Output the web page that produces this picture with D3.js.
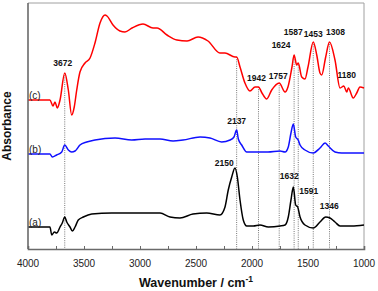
<!DOCTYPE html>
<html>
<head>
<meta charset="utf-8">
<script src="https://cdn.jsdelivr.net/npm/d3@7"></script>
<style>
  body { margin: 0; background: #fff; }
  svg { display: block; font-family: "Liberation Sans", Arial, sans-serif; }
</style>
</head>
<body>
<svg id="chart" width="378" height="291"></svg>
<script>
// spectra, wavenumber (cm-1) and absorbance (offset, a.u.)
var wnC = [4000,3804,3777,3759,3738,3714,3672,3640,3610,3587,3565,3536,3491,3446,3402,3357,3312,3295,3241,3179,3134,3071,2973,2884,2848,2759,2670,2580,2482,2393,2286,2241,2152,2137,2107,2063,2018,1973,1942,1911,1869,1824,1757,1705,1679,1643,1624,1601,1587,1556,1527,1500,1453,1422,1393,1378,1342,1308,1259,1214,1180,1154,1140,1096,1065,1036,1000];
var absC = [1.49,1.49,1.43,1.47,1.41,1.49,1.76,1.59,1.34,1.42,1.59,1.77,1.86,1.91,2.06,2.26,2.34,2.33,2.24,2.18,2.17,2.21,2.25,2.21,2.21,2.14,2.09,2.08,2.12,2.08,1.96,1.96,1.92,1.92,1.82,1.66,1.58,1.62,1.62,1.56,1.50,1.59,1.66,1.57,1.62,1.82,1.94,1.84,1.86,1.72,1.70,1.82,2.07,1.94,1.76,1.74,1.92,2.07,1.89,1.61,1.63,1.57,1.61,1.51,1.56,1.62,1.61];

var wnB = [4000,3804,3783,3744,3699,3672,3640,3610,3580,3536,3476,3402,3223,3074,2955,2821,2705,2616,2464,2375,2271,2196,2161,2137,2122,2092,2047,1991,1929,1857,1750,1705,1676,1652,1631,1610,1587,1571,1527,1453,1393,1348,1319,1259,1199,1080,1000];
var absB = [0.95,0.95,0.92,0.94,0.97,1.04,0.99,0.97,0.98,1.04,1.07,1.09,1.11,1.09,1.10,1.10,1.08,1.09,1.12,1.11,1.07,1.09,1.12,1.19,1.10,1.04,0.97,0.97,0.97,0.97,0.98,0.97,1.02,1.16,1.25,1.12,1.09,1.04,0.99,0.96,1.01,1.06,1.03,0.97,0.96,0.96,0.96];

var wnA = [4000,3804,3788,3765,3744,3714,3694,3672,3654,3625,3604,3580,3551,3506,3431,3253,3074,2911,2821,2732,2643,2527,2404,2286,2241,2212,2181,2152,2131,2107,2078,2047,1988,1929,1854,1750,1705,1676,1652,1631,1610,1592,1571,1527,1453,1393,1342,1304,1259,1214,1110,1000];
var absA = [0.22,0.22,0.14,0.17,0.16,0.22,0.26,0.32,0.27,0.22,0.18,0.22,0.29,0.32,0.35,0.36,0.36,0.36,0.36,0.32,0.31,0.35,0.36,0.34,0.42,0.59,0.72,0.81,0.72,0.49,0.29,0.23,0.23,0.24,0.22,0.23,0.24,0.32,0.49,0.62,0.44,0.42,0.32,0.24,0.21,0.27,0.32,0.31,0.27,0.23,0.23,0.24];

var seriesNames = ["(c)", "(b)", "(a)"];
var xTicks = [4000, 3500, 3000, 2500, 2000, 1500, 1000];

// peak labels for each trace
var peaksC = [3672, 1942, 1757, 1624, 1587, 1453, 1308, 1180];
var peaksB = [2137];
var peaksA = [2150, 1632, 1591, 1346];
// dotted guide lines
var guideLines = [3672, 2137, 1942, 1757, 1624, 1587, 1453, 1308];

// label placement (pixel nudges)
var labelPos = {
  3672:{dx:-2,y:66}, 1942:{dx:-2,y:81}, 1757:{dx:-1,y:79}, 1624:{dx:-13,y:48},
  1587:{dx:-5,y:35}, 1453:{dx:0,y:37}, 1308:{dx:6,y:35}, 1180:{dx:3,y:78},
  2137:{dx:0,y:124}, 2150:{dx:-11,y:166}, 1632:{dx:-4,y:179}, 1591:{dx:11,y:194},
  1346:{dx:4,y:209}
};

var svg = d3.select("#chart");
var mLeft = 28, mRight = 364, mTop = 3, mBottom = 249;

var x = d3.scaleLinear().domain([4000, 1000]).range([mLeft, mRight]);
var y = d3.scaleLinear().domain([0, 2.46]).range([mBottom, mTop]);

function pts(wn, ab){ return wn.map(function(w,i){ return [w, ab[i]]; }); }
var traces = [
  {name:seriesNames[0], data:pts(wnC, absC), color:"#ff0000"},
  {name:seriesNames[1], data:pts(wnB, absB), color:"#1010ff"},
  {name:seriesNames[2], data:pts(wnA, absA), color:"#000000"}
];

// value of the red trace at a wavenumber (for guide line start)
function redAt(w){
  for (var i=0;i<wnC.length-1;i++){
    if (w<=wnC[i] && w>=wnC[i+1]){
      var t=(wnC[i]-w)/(wnC[i]-wnC[i+1]);
      return absC[i]+(absC[i+1]-absC[i])*t;
    }
  }
  return absC[0];
}

// guide lines
svg.append("g").selectAll("line").data(guideLines).enter().append("line")
  .attr("x1", function(d){return x(d);}).attr("x2", function(d){return x(d);})
  .attr("y1", function(d){return y(redAt(d));}).attr("y2", mBottom)
  .attr("stroke", "#555").attr("stroke-width", 0.8)
  .attr("stroke-dasharray", "1,1.2");

// frame
svg.append("path")
  .attr("d", "M"+mLeft+","+mTop+"H"+mRight+"V"+mBottom)
  .attr("fill","none").attr("stroke","#a0a0a0").attr("stroke-width",1);

var line = d3.line()
  .x(function(d){return x(d[0]);})
  .y(function(d){return y(d[1]);})
  .curve(d3.curveMonotoneX);

svg.append("g").selectAll("path").data(traces).enter().append("path")
  .attr("d", function(d){return line(d.data);})
  .attr("fill","none")
  .attr("stroke", function(d){return d.color;})
  .attr("stroke-width", 1.5)
  .attr("stroke-linejoin","round");

// trace names
svg.append("g").selectAll("text").data(traces).enter().append("text")
  .attr("x", mLeft+1)
  .attr("y", function(d){return y(d.data[0][1]) - 1;})
  .attr("font-size", 10).attr("fill", "#222")
  .text(function(d){return d.name;});

// peak labels
var allPeaks = peaksC.concat(peaksB, peaksA);
svg.append("g").selectAll("text").data(allPeaks).enter().append("text")
  .attr("x", function(d){return x(d)+labelPos[d].dx;})
  .attr("y", function(d){return labelPos[d].y;})
  .attr("text-anchor","middle")
  .attr("font-size", 8.5).attr("font-weight","bold").attr("fill","#111")
  .text(function(d){return d;});

// axes
var xAxis = d3.axisBottom(x).tickValues(d3.range(4000, 999, -250)).tickSize(-3).tickFormat("");
var gx = svg.append("g").attr("transform","translate(0,"+mBottom+")").call(xAxis);
gx.select(".domain").attr("stroke","#6a6a6a").attr("stroke-width",1.6);
gx.selectAll(".tick line").attr("stroke","#6a6a6a");

svg.append("g").selectAll("text").data(xTicks).enter().append("text")
  .attr("x", function(d){return x(d);}).attr("y", 267)
  .attr("text-anchor","middle").attr("font-size",10).attr("fill","#222")
  .text(function(d){return d;});

svg.append("line").attr("x1",mLeft).attr("x2",mLeft).attr("y1",mTop).attr("y2",mBottom)
  .attr("stroke","#6a6a6a").attr("stroke-width",1.6);

// titles
var xt = svg.append("text").attr("x", (mLeft+mRight)/2).attr("y", 287)
  .attr("text-anchor","middle").attr("font-size",12.5).attr("font-weight","bold").attr("fill","#111");
xt.append("tspan").text("Wavenumber / cm");
xt.append("tspan").attr("dy",-5).attr("font-size",8.5).text("-1");

svg.append("text").attr("transform","translate(11,"+((mTop+mBottom)/2)+") rotate(-90)")
  .attr("text-anchor","middle").attr("font-size",12).attr("font-weight","bold").attr("fill","#111")
  .text("Absorbance");
</script>
</body>
</html>
